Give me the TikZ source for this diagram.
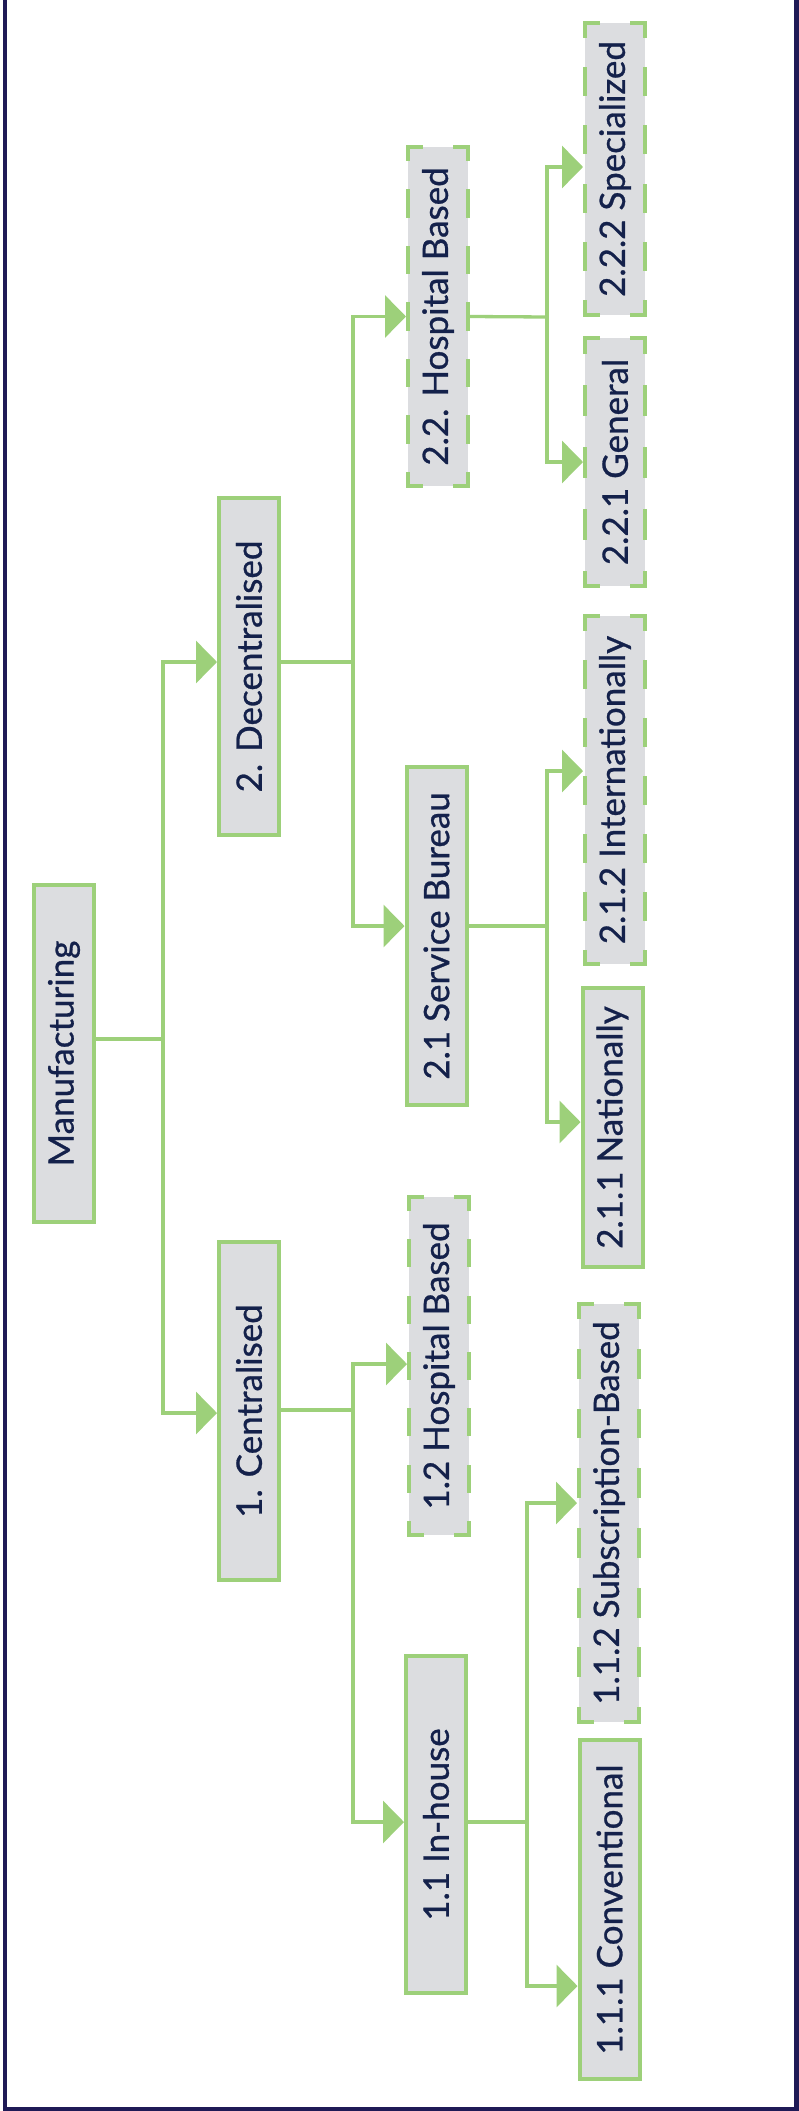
\documentclass[tikz,border=0pt]{standalone}
\usepackage{fontspec}
\setmainfont{Lato}
\newfontfamily\boxfont[FakeBold=0.8]{Lato}
\usetikzlibrary{arrows.meta}
\definecolor{leaf}{HTML}{9DD07A}
\definecolor{boxfill}{HTML}{DCDDE0}
\definecolor{ink}{HTML}{14214B}
\definecolor{frame}{HTML}{1F1A56}

% One side of a dashed outline, with half dashes at both ends so that
% every corner gets an L-shaped piece.
% #1 from, #2 to, #3 side length (pt)
\newcommand\dashside[3]{%
  \pgfmathsetmacro\dfn{max(1,round(#3/60))}%
  \pgfmathsetmacro\dfon{#3/(2*\dfn)-4}%
  \pgfmathsetmacro\dfoff{#3/(2*\dfn)+4}%
  \pgfmathsetmacro\dfph{#3/(4*\dfn)-2}%
  \draw[leaf, line width=4pt, line cap=rect,
        dash pattern=on \dfon pt off \dfoff pt, dash phase=\dfph pt] (#1) -- (#2);%
}
% #1 = node name, #2 = length of the long sides (pt)
\newcommand\dashframe[2]{%
  \dashside{[shift={(2pt,-2pt)}]#1.north west}{[shift={(2pt,2pt)}]#1.south west}{#2}%
  \dashside{[shift={(-2pt,-2pt)}]#1.north east}{[shift={(-2pt,2pt)}]#1.south east}{#2}%
  \dashside{[shift={(2pt,-2pt)}]#1.north west}{[shift={(-2pt,-2pt)}]#1.north east}{60}%
  \dashside{[shift={(2pt,2pt)}]#1.south west}{[shift={(-2pt,2pt)}]#1.south east}{60}%
}

\begin{document}
\begin{tikzpicture}[x=1pt,y=-1pt,
  box/.style={draw=leaf, line width=4pt, fill=boxfill, text=ink,
    minimum width=60pt, minimum height=#1, inner sep=0pt, outer sep=2pt,
    font=\boxfont\fontsize{35}{42}\selectfont},
  box/.default=338pt,
  dbox/.style={box=#1, draw=none},
  dbox/.default=338pt,
  link/.style={draw=leaf, line width=3.3pt},
  tolink/.style={link, -{Triangle[length=21pt,width=42pt]}}]

% page and outer frame (open at the top)
\useasboundingbox (0,0) rectangle (799,2111);
\fill[white] (0,0) rectangle (799,2111);
\draw[frame, line width=4.5pt] (5,0) -- (5,2109) -- (796.5,2109) -- (796.5,0);

% level 0
\node[box=337pt] (manuf) at (64,1053.5) {\rotatebox{90}{Manufacturing}};

% level 1
\node[box=337pt] (dec) at (249,666.5) {\rotatebox{90}{2. Decentralised}};
\node[box=338pt] (cen) at (249,1411) {\rotatebox{90}{1. Centralised}};

% level 2
\node[dbox=339pt] (hos2) at (438,316.5) {\rotatebox{90}{2.2. Hospital Based}};
\node[box=338pt] (sb) at (436.5,936) {\rotatebox{90}{2.1 Service Bureau}};
\node[dbox=338pt] (hos1) at (439,1366) {\rotatebox{90}{1.2 Hospital Based}};
\node[box=337pt] (inh) at (436,1824.5) {\rotatebox{90}{1.1 In-house}};

% level 3
\node[dbox=292pt] (spec) at (615,169) {\rotatebox{90}{2.2.2 Specialized}};
\node[dbox=248pt] (gen) at (615,462) {\rotatebox{90}{2.2.1 General}};
\node[dbox=348pt] (intl) at (615,790) {\rotatebox{90}{2.1.2 Internationally}};
\node[box=279pt] (nat) at (612.5,1127.5) {\rotatebox{90}{2.1.1 Nationally}};
\node[dbox=418pt] (subs) at (609,1513) {\rotatebox{90}{1.1.2 Subscription-Based}};
\node[box=339pt] (conv) at (609.5,1909.5) {\rotatebox{90}{1.1.1 Conventional}};

% dashed outlines of the optional branches
\dashframe{hos2}{339}
\dashframe{hos1}{338}
\dashframe{spec}{292}
\dashframe{gen}{248}
\dashframe{intl}{348}
\dashframe{subs}{418}

% branching points
\coordinate (j1) at (163,1039);
\coordinate (j2) at (353,1410);
\coordinate (j3) at (353,662);
\coordinate (j4) at (527,1822);
\coordinate (j5) at (547,926);
\coordinate (j6) at (547,317);

% Manufacturing -> level 1
\draw[link] ([yshift=14.5pt]manuf.east) -- (j1);
\draw[tolink] (j1) |- ([yshift=4.5pt]dec.west);
\draw[tolink] (j1) |- ([yshift=-2pt]cen.west);

% Centralised
\draw[link] ([yshift=1pt]cen.east) -- (j2);
\draw[tolink] (j2) |- ([yshift=2pt]hos1.west);
\draw[tolink] (j2) |- ([yshift=2.5pt]inh.west);

% Decentralised
\draw[link] ([yshift=4.5pt]dec.east) -- (j3);
\draw[tolink] (j3) |- (hos2.west);
\draw[tolink] (j3) |- ([yshift=10pt]sb.west);

% In-house
\draw[link] ([yshift=2.5pt]inh.east) -- (j4);
\draw[tolink] (j4) |- ([yshift=10pt]subs.west);
\draw[tolink] (j4) |- ([yshift=-76.5pt]conv.west);

% Service Bureau
\draw[link] ([yshift=10pt]sb.east) -- (j5);
\draw[tolink] (j5) |- ([yshift=19pt]intl.west);
\draw[tolink] (j5) |- ([yshift=5.5pt]nat.west);

% 2.2 Hospital Based
\draw[link] (hos2.east) -- (j6);
\draw[tolink] (j6) |- ([yshift=2pt]spec.west);
\draw[tolink] (j6) |- (gen.west);
\end{tikzpicture}
\end{document}
